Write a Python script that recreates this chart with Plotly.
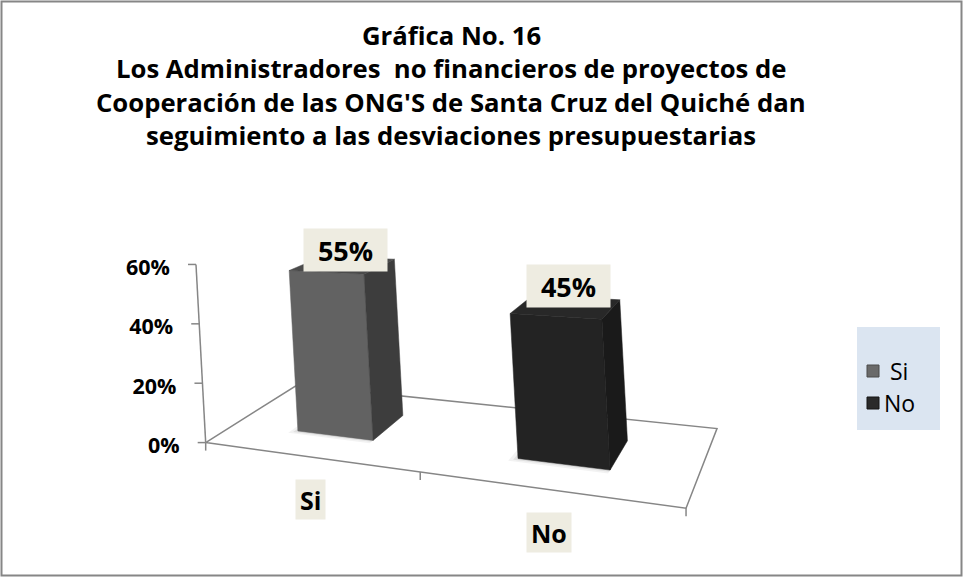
import numpy as np
import plotly.graph_objects as go

# ---- data ----
categories = ["Si", "No"]
values = [0.55, 0.45]
y_ticks = [0.0, 0.2, 0.4, 0.6]
y_tick_labels = ["0%", "20%", "40%", "60%"]
title_lines = [
    "Gráfica No. 16",
    "Los Administradores  no financieros de proyectos de",
    "Cooperación de las ONG'S de Santa Cruz del Quiché dan",
    "seguimiento a las desviaciones presupuestarias",
]

# ---- 3-D view (camera) style constants, pixel space of the 963x577 canvas ----
YAW, ROLL, FOCAL, DIST, CX, CY, EYE_H = 0.4168614, 0.05439172, 993.7193, 4.127075, 435.6143, 45.81225, 1.621622
VAL_SCALE, BAR_W, BAR_D, FLOOR_D = 1.256682, 0.3642138, 0.2847878, 0.7265885


def P(X, Y, Z):
    """Project a world point (X along categories, Y height, Z depth) to canvas pixels."""
    x1 = np.cos(YAW)*X + np.sin(YAW)*Z
    z1 = -np.sin(YAW)*X + np.cos(YAW)*Z
    D = DIST + z1
    xs = FOCAL*x1/D
    ys = FOCAL*(Y - EYE_H)/D
    return CX + xs*np.cos(ROLL) - ys*np.sin(ROLL), CY - (xs*np.sin(ROLL) + ys*np.cos(ROLL))


def poly(pts):
    uu, vv = [], []
    for p_ in pts:
        a_, b_ = P(*p_)
        uu.append(float(a_))
        vv.append(float(b_))
    return uu, vv


FONT = "Open Sans"
line_col = "#868686"
d = FLOOR_D
n = len(categories)
fig = go.Figure()

# floor outline
fu, fv = poly([(-1, 0, -d/2), (1, 0, -d/2), (1, 0, d/2), (-1, 0, d/2), (-1, 0, -d/2)])
fig.add_trace(go.Scatter(x=fu, y=fv, mode="lines", line=dict(color=line_col, width=1.5),
                         hoverinfo="skip", showlegend=False))
# value axis
au, av = poly([(-1, 0, -d/2), (-1, max(y_ticks)*VAL_SCALE, -d/2)])
fig.add_trace(go.Scatter(x=au, y=av, mode="lines", line=dict(color=line_col, width=1.5),
                         hoverinfo="skip", showlegend=False))
tu, tv, lab_u, lab_v = [], [], [], []
for t in y_ticks:
    a_, b_ = P(-1, t*VAL_SCALE, -d/2)
    tu += [a_, a_-8, None]
    tv += [b_, b_, None]
    lab_u.append(a_ - 26)
    lab_v.append(b_ + 5)
for k in range(n+1):
    a_, b_ = P(-1 + 2*k/n, 0, -d/2)
    tu += [a_, a_, None]
    tv += [b_, b_+8, None]
fig.add_trace(go.Scatter(x=tu, y=tv, mode="lines", line=dict(color=line_col, width=1.5),
                         hoverinfo="skip", showlegend=False))
fig.add_trace(go.Scatter(x=lab_u, y=lab_v, mode="text", text=[f"<b>{s}</b>" for s in y_tick_labels],
                         textposition="middle left", textfont=dict(family=FONT, size=21.5, color="black"),
                         hoverinfo="skip", showlegend=False))

face_cols = [("#626262", "#3d3d3d", "#4b4b4b"), ("#232323", "#1a1a1a", "#282828")]
legend_cols = [("#6a6a6a", "#4a4a4a"), ("#2a2a2a", "#151515")]
annotations = []
for i, (cat, val) in enumerate(zip(categories, values)):
    xc = -1 + (i+0.5)*2/n
    x0, x1 = xc - BAR_W/2, xc + BAR_W/2
    z0, z1 = -BAR_D/2, BAR_D/2
    h = val*VAL_SCALE
    # soft shadow on the floor
    for grow, alpha in [(0.03, 0.05), (0.015, 0.07)]:
        uu, vv = poly([(x0-grow, 0, z0-grow), (x1, 0, z0-grow), (x1, 0, z1), (x0-grow, 0, z1), (x0-grow, 0, z0-grow)])
        fig.add_trace(go.Scatter(x=uu, y=vv, mode="lines", fill="toself", fillcolor=f"rgba(0,0,0,{alpha})",
                                 line=dict(width=0), hoverinfo="skip", showlegend=False))
    fc, sc, tc = face_cols[i]
    for pts, col in [([(x0, 0, z0), (x1, 0, z0), (x1, h, z0), (x0, h, z0)], fc),
                     ([(x1, 0, z0), (x1, 0, z1), (x1, h, z1), (x1, h, z0)], sc),
                     ([(x0, h, z0), (x1, h, z0), (x1, h, z1), (x0, h, z1)], tc)]:
        uu, vv = poly(pts + [pts[0]])
        fig.add_trace(go.Scatter(x=uu, y=vv, mode="lines", fill="toself", fillcolor=col,
                                 line=dict(width=0.5, color=col), hoverinfo="skip", showlegend=False,
                                 name=cat))
    # data label: between the bar top and the value's level on the axis
    a_, b_ = P(xc, h, 0)
    _, b_axis = P(-1, h, -d/2)
    annotations.append(dict(x=float(a_)+3, y=0.5*float(b_)+0.5*float(b_axis), xref="x", yref="y",
                            text=f"<b>{round(val*100)}%</b>",
                            showarrow=False, yanchor="bottom", font=dict(family=FONT, size=27, color="black"),
                            bgcolor="#eeece1", borderpad=4, width=75, height=34))
    a_, b_ = P(xc, 0, -d/2)
    annotations.append(dict(x=float(a_)+3, y=float(b_)+43, xref="x", yref="y", text=f"<b>{cat}</b>", showarrow=False,
                            font=dict(family=FONT, size=25, color="black"), bgcolor="#eeece1",
                            borderpad=4, height=31))

# legend (drawn by hand to match the original box)
leg_y = [371, 403]
fig.add_trace(go.Scatter(x=[873]*n, y=leg_y, mode="markers", hoverinfo="skip", showlegend=False,
                         marker=dict(symbol="square", size=12, color=[c[0] for c in legend_cols],
                                     line=dict(color=[c[1] for c in legend_cols], width=1))))
for i, cat in enumerate(categories):
    annotations.append(dict(x=888 if cat == "Si" else 882, y=leg_y[i], xref="x", yref="y", xanchor="left",
                            text=cat, showarrow=False, font=dict(family=FONT, size=23, color="black")))

for j, t in enumerate(title_lines):
    annotations.append(dict(x=451, y=35.5 + 33.3*j, xref="x", yref="y", text=f"<b>{t}</b>", showarrow=False,
                            font=dict(family=FONT, size=25.7, color="black")))

fig.update_layout(
    width=963, height=577, margin=dict(l=0, r=0, t=0, b=0),
    paper_bgcolor="white", plot_bgcolor="white",
    xaxis=dict(range=[0, 963], visible=False, fixedrange=True),
    yaxis=dict(range=[577, 0], visible=False, fixedrange=True),
    annotations=annotations,
    shapes=[dict(type="rect", xref="x", yref="y", x0=857, y0=327, x1=940, y1=430, fillcolor="#dbe5f1",
                 line=dict(width=0), layer="below"),
            dict(type="rect", xref="x", yref="y", x0=1.5, y0=1.5, x1=961.5, y1=575.5,
                 line=dict(color="#868686", width=2))],
    showlegend=False,
)
fig.write_html("out.html")
